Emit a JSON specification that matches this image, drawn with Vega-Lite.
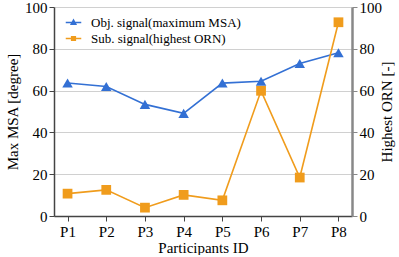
{
  "$schema": "https://vega.github.io/schema/vega-lite/v6.json",
  "width": 298,
  "height": 209,
  "padding": {"left": 5, "top": 0, "right": 5, "bottom": 0},
  "background": "white",
  "config": {
    "font": "Times New Roman, Liberation Serif, serif",
    "view": {"stroke": null},
    "legend": {"labelFont": "Times New Roman, Liberation Serif, serif", "titleFont": "Times New Roman, Liberation Serif, serif"},
    "axis": {"labelFont": "Times New Roman, Liberation Serif, serif", "titleFont": "Times New Roman, Liberation Serif, serif", "labelFontSize": 15, "titleFontSize": 15, "titleFontWeight": "normal", "labelColor": "black", "titleColor": "black", "domainColor": "#444", "tickColor": "#444", "domainWidth": 1.5, "gridColor": "#d0d0d0"}
  },
  "data": {"values": [
    {"p": "P1", "series": "Obj. signal(maximum MSA)", "v": 63.6},
    {"p": "P2", "series": "Obj. signal(maximum MSA)", "v": 62.0},
    {"p": "P3", "series": "Obj. signal(maximum MSA)", "v": 53.4},
    {"p": "P4", "series": "Obj. signal(maximum MSA)", "v": 49.1},
    {"p": "P5", "series": "Obj. signal(maximum MSA)", "v": 63.6},
    {"p": "P6", "series": "Obj. signal(maximum MSA)", "v": 64.5},
    {"p": "P7", "series": "Obj. signal(maximum MSA)", "v": 73.0},
    {"p": "P8", "series": "Obj. signal(maximum MSA)", "v": 78.1},
    {"p": "P1", "series": "Sub. signal(highest ORN)", "v": 10.7},
    {"p": "P2", "series": "Sub. signal(highest ORN)", "v": 12.5},
    {"p": "P3", "series": "Sub. signal(highest ORN)", "v": 4.0},
    {"p": "P4", "series": "Sub. signal(highest ORN)", "v": 10.1},
    {"p": "P5", "series": "Sub. signal(highest ORN)", "v": 7.5},
    {"p": "P6", "series": "Sub. signal(highest ORN)", "v": 59.9},
    {"p": "P7", "series": "Sub. signal(highest ORN)", "v": 18.4},
    {"p": "P8", "series": "Sub. signal(highest ORN)", "v": 92.7}
  ]},
  "encoding": {
    "x": {"field": "p", "type": "ordinal", "scale": {"type": "point", "padding": 0.35}, "axis": {"title": "Participants ID", "labelAngle": 0, "grid": false, "labelPadding": 3, "titlePadding": 1}},
    "color": {"field": "series", "type": "nominal", "scale": {"domain": ["Obj. signal(maximum MSA)", "Sub. signal(highest ORN)"], "range": ["#3370d4", "#f09c1c"]},
      "legend": {"title": null, "orient": "none", "legendX": 3, "legendY": 9, "labelFontSize": 13, "labelColor": "black", "symbolSize": 100, "symbolStrokeWidth": 1.6, "rowPadding": 2, "labelOffset": 11, "symbolOffset": 10,
        "encode": {"symbols": {"update": {
          "shape": {"signal": "datum.value === 'Obj. signal(maximum MSA)' ? 'M-1.55,0H1.55M0,-0.48L0.44,0.32H-0.44Z' : 'M-1.55,0H1.55M-0.36,-0.36H0.36V0.36H-0.36Z'"},
          "stroke": {"signal": "datum.value === 'Obj. signal(maximum MSA)' ? '#3370d4' : '#f09c1c'"},
          "fill": {"signal": "datum.value === 'Obj. signal(maximum MSA)' ? '#3370d4' : '#f09c1c'"},
          "strokeWidth": {"value": 1.6}
        }}}}
    }
  },
  "layer": [
    {
      "transform": [{"filter": "datum.series === 'Obj. signal(maximum MSA)'"}],
      "mark": {"type": "line", "strokeWidth": 1.6, "point": {"filled": true, "size": 110, "shape": "triangle-up"}},
      "encoding": {
        "y": {"field": "v", "type": "quantitative", "scale": {"domain": [0, 100]}, "axis": {"title": "Max MSA [degree]", "values": [0, 20, 40, 60, 80, 100], "tickSize": 5, "titlePadding": 4}}
      }
    },
    {
      "transform": [{"filter": "datum.series === 'Sub. signal(highest ORN)'"}],
      "mark": {"type": "line", "strokeWidth": 1.6, "point": {"filled": true, "size": 95, "shape": "square"}},
      "encoding": {
        "y": {"field": "v", "type": "quantitative", "scale": {"domain": [0, 100]}, "axis": {"title": "Highest ORN [-]", "orient": "right", "titleAngle": -90, "values": [0, 20, 40, 60, 80, 100], "grid": false, "tickSize": 5, "domainColor": "#888", "tickColor": "#888", "domainWidth": 2.5, "titlePadding": 13}}
      }
    }
  ],
  "resolve": {"scale": {"y": "independent"}}
}
